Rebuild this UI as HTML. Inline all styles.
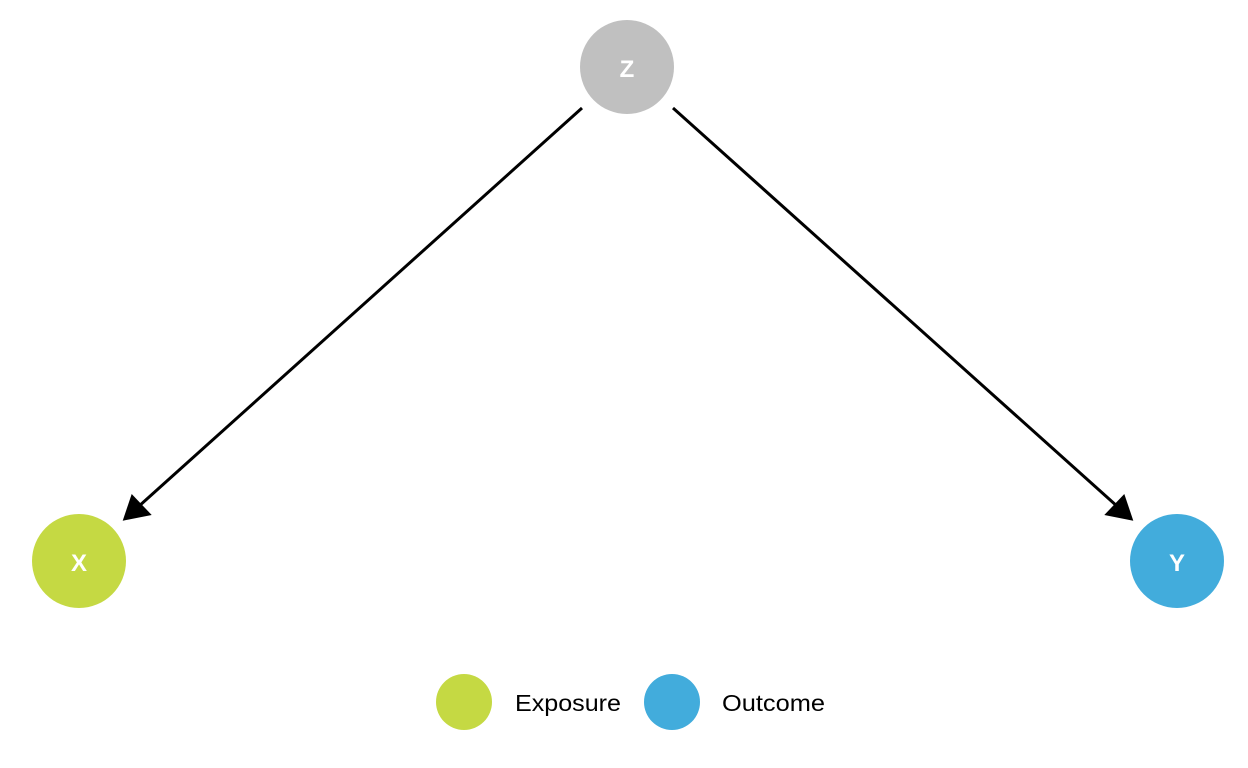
<!DOCTYPE html>
<html><head><meta charset="utf-8"><style>
html,body{margin:0;padding:0;background:#fff;width:1248px;height:768px;overflow:hidden}
</style></head><body>
<svg width="1248" height="768" viewBox="0 0 1248 768" xmlns="http://www.w3.org/2000/svg">
<line x1="582" y1="108" x2="138" y2="507" stroke="#000" stroke-width="3"/>
<polygon points="122.7,520.7 131.7,494 151.7,515" fill="#000"/>
<line x1="673" y1="108" x2="1118" y2="507" stroke="#000" stroke-width="3"/>
<polygon points="1133.3,520.7 1124.3,494 1104.3,515" fill="#000"/>
<circle cx="627" cy="67" r="47" fill="#c0c0c0"/>
<circle cx="79" cy="561" r="47" fill="#c5d943"/>
<circle cx="1177" cy="561" r="47" fill="#42acdc"/>
<g font-family="Liberation Sans, sans-serif" font-weight="bold" font-size="24" fill="#fff" text-anchor="middle">
<text x="627" y="77">Z</text>
<text x="79" y="571">X</text>
<text x="1177" y="571">Y</text>
</g>
<circle cx="464" cy="702" r="28" fill="#c5d943"/>
<circle cx="672" cy="702" r="28" fill="#42acdc"/>
<g font-family="Liberation Sans, sans-serif" font-size="23" fill="#000">
<text x="515" y="711" textLength="106" lengthAdjust="spacingAndGlyphs">Exposure</text>
<text x="722" y="711" textLength="103" lengthAdjust="spacingAndGlyphs">Outcome</text>
</g>
</svg>
</body></html>
